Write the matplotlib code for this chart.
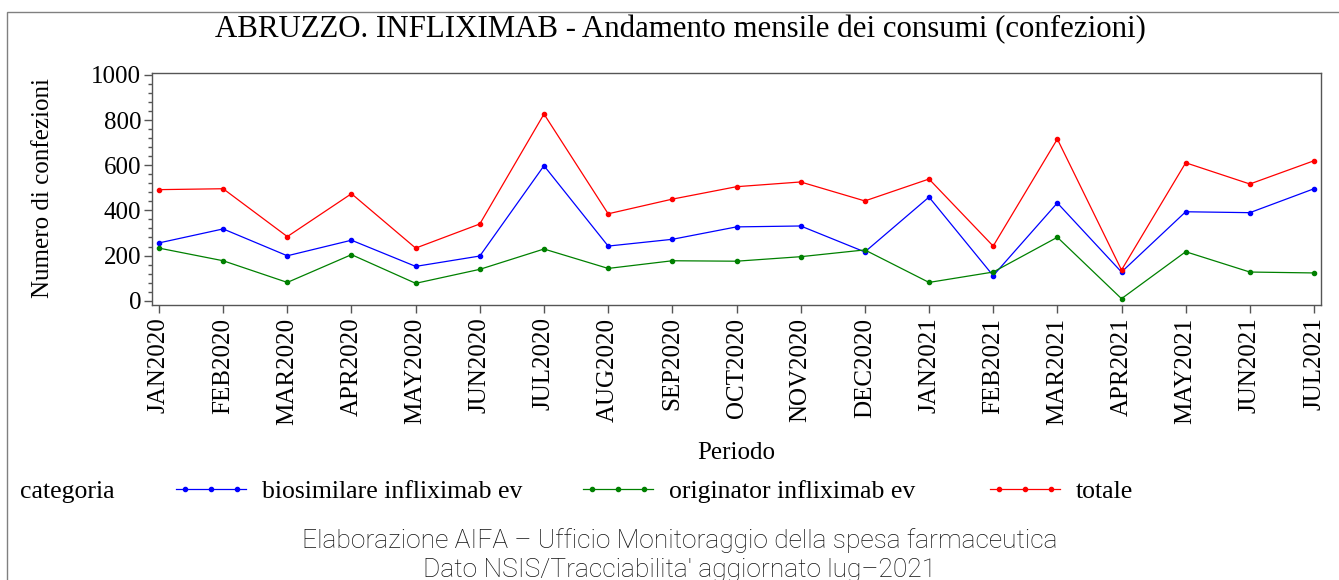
import matplotlib.pyplot as plt
from matplotlib.lines import Line2D
from matplotlib.patches import Rectangle
from matplotlib.ticker import MultipleLocator

# dati
periodi = ['JAN2020', 'FEB2020', 'MAR2020', 'APR2020', 'MAY2020', 'JUN2020', 'JUL2020',
           'AUG2020', 'SEP2020', 'OCT2020', 'NOV2020', 'DEC2020', 'JAN2021', 'FEB2021',
           'MAR2021', 'APR2021', 'MAY2021', 'JUN2021', 'JUL2021']
biosimilare = [256, 318, 199, 268, 152, 198, 598, 242, 272, 327, 331, 216, 459, 111, 433, 127, 394, 390, 496]
originator = [233, 177, 81, 204, 77, 139, 229, 143, 177, 175, 195, 225, 81, 127, 281, 9, 217, 127, 123]
totale = [492, 496, 284, 474, 233, 340, 827, 385, 450, 505, 526, 442, 539, 242, 716, 136, 611, 517, 620]

serie = [('biosimilare infliximab ev', biosimilare, '#0000ff'),
         ('originator infliximab ev', originator, '#008000'),
         ('totale', totale, '#ff0000')]

W, H = 1339, 580
serif = 'Liberation Serif'

def fx(px):
    return px / W

def fy(py):
    return 1 - py / H

fig = plt.figure(figsize=(W / 100, H / 100), dpi=100)

# cornice esterna
fig.add_artist(Rectangle((fx(7), -0.5), 2, fy(12) + 0.5, transform=fig.transFigure,
                         fill=False, edgecolor='#808080', linewidth=1))

ax = fig.add_axes([fx(152.3), fy(305), fx(1320.7) - fx(152.3), fy(72.7) - fy(305)])

x = list(range(len(periodi)))
for nome, valori, colore in serie:
    ax.plot(x, valori, color=colore, linewidth=0.9, marker='o', markersize=3)

ax.set_xlim(-0.104, len(periodi) - 1 + 0.104)
ax.set_ylim(-19, 1010)
ax.set_xticks(x)
ax.set_xticklabels(periodi, rotation=90, fontsize=18, family=serif)
ax.yaxis.set_major_locator(MultipleLocator(200))
ax.yaxis.set_minor_locator(MultipleLocator(40))
for lab in ax.get_yticklabels():
    lab.set_family(serif)
ax.tick_params(axis='y', labelsize=18, pad=2)
ax.tick_params(which='major', length=6, width=1, color='#555555')
ax.tick_params(axis='x', pad=3)
ax.tick_params(which='minor', length=3, width=1, color='#555555')
for sp in ax.spines.values():
    sp.set_color('#555555')
    sp.set_linewidth(1)

# titoli
fig.text(fx(680), fy(30), 'ABRUZZO. INFLIXIMAB - Andamento mensile dei consumi (confezioni)',
         ha='center', va='center', fontsize=22.2, family=serif)
fig.text(fx(43), fy(188), 'Numero di confezioni', rotation=90, ha='center', va='center',
         fontsize=18, family=serif)
fig.text(fx(736), fy(453), 'Periodo', ha='center', va='center', fontsize=18, family=serif)

# legenda
fig.text(fx(20), fy(492), 'categoria', ha='left', va='center', fontsize=18.5, family=serif)
for (nome, valori, colore), x0 in zip(serie, [176, 583, 990]):
    fig.add_artist(Line2D([fx(x0), fx(x0 + 70)], [fy(489), fy(489)], transform=fig.transFigure,
                          color=colore, linewidth=0.9))
    fig.add_artist(Line2D([fx(x0 + 9), fx(x0 + 35), fx(x0 + 61)], [fy(489)] * 3,
                          transform=fig.transFigure, color=colore, linestyle='none',
                          marker='o', markersize=3))
    fig.text(fx(x0 + 86), fy(492), nome, ha='left', va='center', fontsize=18.5, family=serif)

# note
fig.text(fx(680), fy(541), 'Elaborazione AIFA \u2013 Ufficio Monitoraggio della spesa farmaceutica',
         ha='center', va='center', fontsize=19, family='Roboto', fontweight='light', color='#111111')
fig.text(fx(680), fy(570), "Dato NSIS/Tracciabilita' aggiornato lug\u20132021",
         ha='center', va='center', fontsize=19, family='Roboto', fontweight='light', color='#111111')

fig.savefig('out.png', dpi=100)
